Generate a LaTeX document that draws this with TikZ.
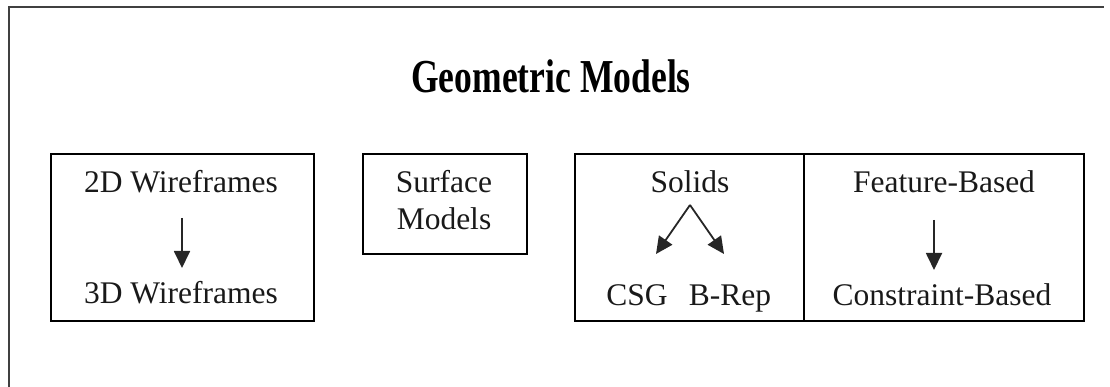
\documentclass[tikz,border=0pt]{standalone}
\usepackage{fontspec}
\usepackage{graphicx}
\setmainfont{Liberation Serif}
\usetikzlibrary{arrows.meta}
\begin{document}
\begin{tikzpicture}[x=1pt,y=-1pt,
  boxnode/.style={draw=black, line width=1.7pt, rectangle, inner sep=0pt, anchor=north west},
  lbl/.style={anchor=base, inner sep=0pt, font=\fontsize{31.5}{37}\selectfont, text=black!90},
  arr/.style={draw=black!85, line width=1.8pt, -{Triangle[length=17pt,width=16pt]}},
  frame/.style={draw=black!75, line width=1.3pt}
]
\useasboundingbox (0,0) rectangle (1110,387);
% outer frame (top and left edges only)
\coordinate (fbl) at (9,390);
\coordinate (ftl) at (9,7);
\coordinate (ftr) at (1104,7);
\draw[frame] (fbl) -- (ftl) -- (ftr);
% title
\node[anchor=base, inner sep=0pt] (title) at (551,93)
  {\scalebox{0.79}[1.05]{\fontsize{45}{50}\selectfont\bfseries Geometric Models}};
% boxes
\node[boxnode, minimum width=263pt, minimum height=167pt] (b1) at (50,153) {};
\node[boxnode, minimum width=164pt, minimum height=100pt] (b2) at (362,153) {};
\node[boxnode, minimum width=229pt, minimum height=167pt] (b3) at (574,153) {};
\node[boxnode, minimum width=280pt, minimum height=167pt] (b4) at (803,153) {};
% labels
\node[lbl] (w2) at (181,193) {2D Wireframes};
\node[lbl] (w3) at (181,303) {3D Wireframes};
\node[lbl] (s1) at (444,193) {Surface};
\node[lbl] (s2) at (444,230) {Models};
\node[lbl] (so) at (690,193) {Solids};
\node[lbl] (csg) at (637,305) {CSG};
\node[lbl] (brep) at (730,305) {B-Rep};
\node[lbl] (fb) at (944,193) {Feature-Based};
\node[lbl] (cb) at (942,305) {Constraint-Based};
% arrow end points
\coordinate (a1s) at (182,218);
\coordinate (a1e) at (182,268);
\coordinate (apex) at (690,205);
\coordinate (tipl) at (656,254);
\coordinate (tipr) at (724,254);
\coordinate (a4s) at (934,220);
\coordinate (a4e) at (934,270);
% arrows
\draw[arr] (a1s) -- (a1e);
\draw[arr] (apex) -- (tipl);
\draw[arr] (apex) -- (tipr);
\draw[arr] (a4s) -- (a4e);
\end{tikzpicture}
\end{document}
